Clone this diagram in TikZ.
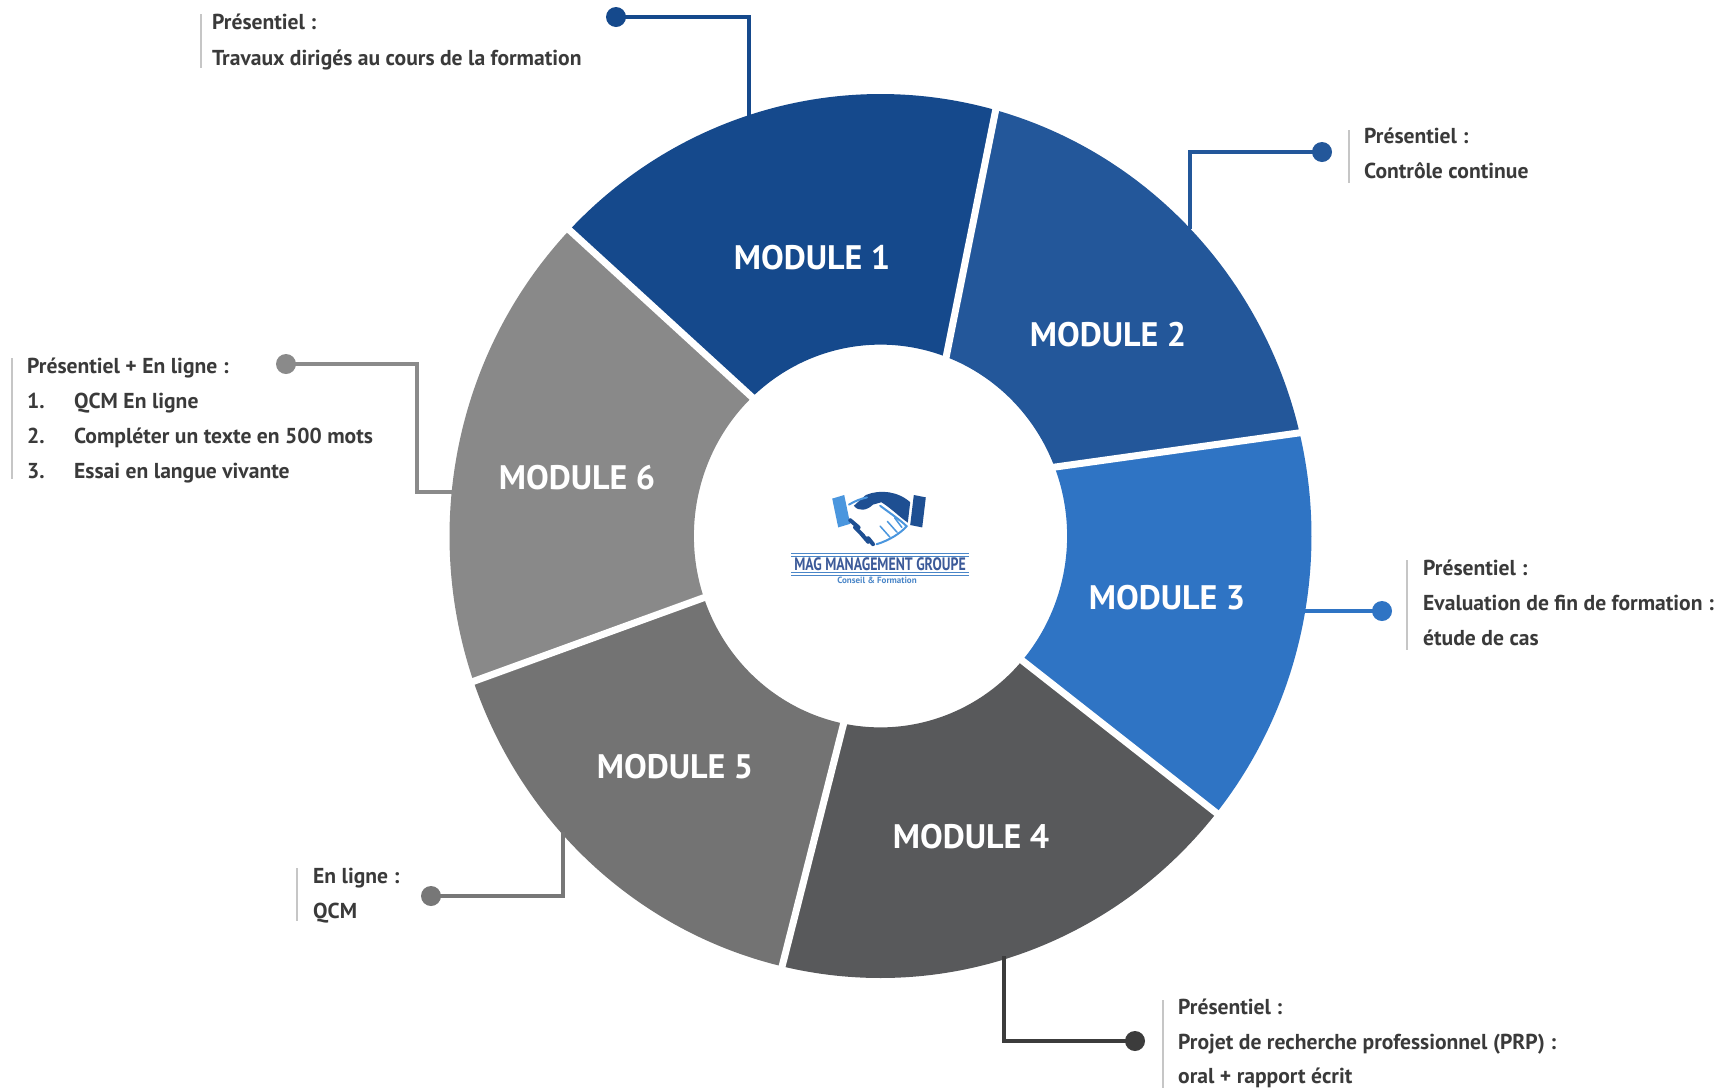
\documentclass[tikz,border=0pt]{standalone}
\usepackage{fontspec}
\setmainfont{PT Sans}
\usepackage{graphicx}
\definecolor{cA}{HTML}{15498C}
\definecolor{cB}{HTML}{23579A}
\definecolor{cC}{HTML}{2F74C4}
\definecolor{cD}{HTML}{58595B}
\definecolor{cE}{HTML}{737373}
\definecolor{cF}{HTML}{898989}
\definecolor{lnD}{HTML}{3C3C3C}
\definecolor{lnE}{HTML}{777777}
\definecolor{lnF}{HTML}{8A8A8A}
\definecolor{txt}{HTML}{3A3A3A}
\definecolor{barc}{HTML}{C6C6C6}
\definecolor{lgb}{HTML}{4A96DE}
\definecolor{lgd}{HTML}{1E4F92}
\definecolor{logotxt}{HTML}{3C5A99}
\definecolor{logosub}{HTML}{4A86C8}
\begin{document}
\begin{tikzpicture}[x=1pt,y=-1pt,
  modlabel/.style={text=white, font=\fontsize{34}{34}\selectfont\bfseries, inner sep=0pt},
  desc/.style={text=txt, font=\fontsize{21.6}{21.6}\selectfont\bfseries, inner sep=0pt, anchor=base west},
  conn/.style={line width=3.2pt},
  dotc/.style={circle, inner sep=0pt, minimum size=20pt},
  gapline/.style={white, line width=7pt, shorten <=-5pt, shorten >=-5pt},
  sidebar/.style={barc, line width=1.6pt}]
\useasboundingbox (0,0) rectangle (1723,1088);
\fill[white] (0,0) rectangle (1723,1088);

% ring
\begin{scope}[shift={(880.5,536)}, x=431pt, y=442pt]
\def\ri{0.433}
\fill[cA] (136.2:1) arc[start angle=136.2, end angle=74.5, radius=1] -- (69.4:\ri) arc[start angle=69.4, end angle=133.5, radius=\ri] -- cycle;
\fill[cB] (74.5:1) arc[start angle=74.5, end angle=13.5, radius=1] -- (21.1:\ri) arc[start angle=21.1, end angle=69.4, radius=\ri] -- cycle;
\fill[cC] (13.5:1) arc[start angle=13.5, end angle=-38.8, radius=1] -- (-40.6:\ri) arc[start angle=-40.6, end angle=21.1, radius=\ri] -- cycle;
\fill[cD] (-38.8:1) arc[start angle=-38.8, end angle=-103.2, radius=1] -- (-101.4:\ri) arc[start angle=-101.4, end angle=-40.6, radius=\ri] -- cycle;
\fill[cE] (-103.2:1) arc[start angle=-103.2, end angle=-160.8, radius=1] -- (-161.2:\ri) arc[start angle=-161.2, end angle=-101.4, radius=\ri] -- cycle;
\fill[cF] (-160.8:1) arc[start angle=-160.8, end angle=-223.8, radius=1] -- (-226.5:\ri) arc[start angle=-226.5, end angle=-161.2, radius=\ri] -- cycle;
\draw[gapline] (136.2:1) -- (133.5:\ri);
\draw[gapline] (74.5:1) -- (69.4:\ri);
\draw[gapline] (13.5:1) -- (21.1:\ri);
\draw[gapline] (-38.8:1) -- (-40.6:\ri);
\draw[gapline] (-103.2:1) -- (-101.4:\ri);
\draw[gapline] (-160.8:1) -- (-161.2:\ri);
\end{scope}

% module labels
\node[modlabel] (m1) at (812,258) {MODULE 1};
\node[modlabel] (m2) at (1108,335) {MODULE 2};
\node[modlabel] (m3) at (1167,598) {MODULE 3};
\node[modlabel] (m4) at (971,837) {MODULE 4};
\node[modlabel] (m5) at (675,767) {MODULE 5};
\node[modlabel] (m6) at (577,478) {MODULE 6};

% connectors
\coordinate (r1) at (749,117);
\coordinate (r2) at (1190,229);
\coordinate (r3) at (1302,611);
\coordinate (r4) at (1004,956);
\coordinate (r5) at (563,832);
\coordinate (k6) at (417,492);
\coordinate (r6) at (455,492);
\node[dotc, fill=cA] (p1) at (616,17) {};
\node[dotc, fill=cB] (p2) at (1322,152) {};
\node[dotc, fill=cC] (p3) at (1382,611) {};
\node[dotc, fill=lnD] (p4) at (1135,1041) {};
\node[dotc, fill=lnE] (p5) at (431,896) {};
\node[dotc, fill=lnF] (p6) at (286,364) {};
\draw[conn, cA] (p1.center) -| (r1);
\draw[conn, cB] (p2.center) -| (r2);
\draw[conn, cC] (r3) -- (p3.center);
\draw[conn, lnD] (r4) |- (p4.center);
\draw[conn, lnE] (p5.center) -| (r5);
\draw[conn, lnF] (p6.center) -| (k6) -- (r6);

% description texts
\draw[sidebar] (201,14) -- (201,68);
\node[desc] (t1a) at (212,29) {Présentiel :};
\node[desc] (t1b) at (212,65) {Travaux dirigés au cours de la formation};

\draw[sidebar] (1349,130) -- (1349,183);
\node[desc] (t2a) at (1364,143) {Présentiel :};
\node[desc] (t2b) at (1364,178) {Contrôle continue};

\draw[sidebar] (1407,560) -- (1407,650);
\node[desc] (t3a) at (1423,575) {Présentiel :};
\node[desc] (t3b) at (1423,610) {Evaluation de fin de formation :};
\node[desc] (t3c) at (1423,645) {étude de cas};

\draw[sidebar] (1163,1000) -- (1163,1088);
\node[desc] (t4a) at (1178,1014) {Présentiel :};
\node[desc] (t4b) at (1178,1049) {Projet de recherche professionnel (PRP) :};
\node[desc] (t4c) at (1178,1083) {oral + rapport écrit};

\draw[sidebar] (297,868) -- (297,921);
\node[desc] (t5a) at (313,883) {En ligne :};
\node[desc] (t5b) at (313,918) {QCM};

\draw[sidebar] (12,358) -- (12,479);
\node[desc] (t6a) at (27,373) {Présentiel + En ligne :};
\node[desc] (n61) at (27,408) {1.};
\node[desc] (t61) at (74,408) {QCM En ligne};
\node[desc] (n62) at (27,443) {2.};
\node[desc] (t62) at (74,443) {Compléter un texte en 500 mots};
\node[desc] (n63) at (27,478) {3.};
\node[desc] (t63) at (74,478) {Essai en langue vivante};

% logo
\begin{scope}[shift={(879,519)}, scale=1.2, shift={(-877,-520)}]
\fill[lgb] (838,503) -- (848,500) -- (853,524) -- (843,527) -- cycle;
\fill[lgd] (906,500) -- (916,502) -- (913,527) -- (903,525) -- cycle;
\fill[lgd] (903,506) .. controls (893,497) and (878,495) .. (866,500) -- (856,509) .. controls (860,514) and (867,513) .. (872,508) -- (879,506) .. controls (887,511) and (895,519) .. (901,523) -- cycle;
\draw[lgb, line width=2pt, line cap=round] (852,508) .. controls (857,505) and (862,503) .. (867,502);
\draw[lgb, line width=2pt, line cap=round] (878,509) .. controls (886,515) and (895,521) .. (900,526) .. controls (895,532) and (885,538) .. (875,541);
\draw[lgd, line width=4pt, line cap=round] (853,521) -- (860,527) (857,527) -- (864,534) (862,532) -- (868,539) (868,536) -- (872,541);
\draw[lgb, line width=1.5pt, line cap=round] (878,526) -- (886,535) (884,522) -- (892,531) (890,519) -- (896,527);
\end{scope}
\draw[logosub, line width=1pt] (791,553) -- (969,553) (791,556) -- (969,556) (791,572) -- (969,572) (791,575) -- (969,575);
\node[inner sep=0pt, text=logotxt, font=\fontsize{18}{18}\selectfont\bfseries] (lg1) at (880,564) {\scalebox{0.77}[1]{MAG MANAGEMENT GROUPE}};
\node[inner sep=0pt, text=logosub, font=\fontsize{9}{9}\selectfont\bfseries] (lg2) at (877,580.5) {Conseil \& Formation};
\end{tikzpicture}
\end{document}
